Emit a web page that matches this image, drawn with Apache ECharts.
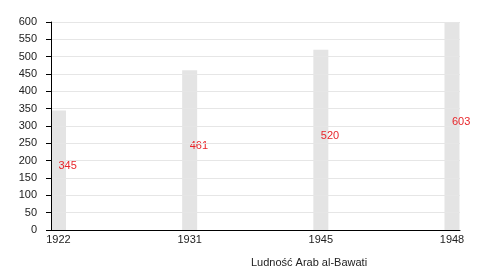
<!DOCTYPE html>
<html>
<head>
<meta charset="utf-8">
<script src="https://cdn.jsdelivr.net/npm/echarts@6/dist/echarts.min.js"></script>
<style>html,body{margin:0;padding:0;background:#fff}#c{width:500px;height:270px}</style>
</head>
<body>
<div id="c"></div>
<script>
const years = ['1922', '1931', '1945', '1948'];
const population = [345, 461, 520, 603];
const titleText = 'Ludność Arab al-Bawati';

const chart = echarts.init(document.getElementById('c'), null, {renderer: 'canvas'});
const font = 'Liberation Sans, Arial, sans-serif';
chart.setOption({
  animation: false,
  title: {
    text: titleText, left: 304, top: 252, textAlign: 'center',
    textStyle: {fontFamily: font, fontSize: 11, fontWeight: 'normal', color: '#222'}
  },
  grid: {left: 51, right: 40, top: 22, bottom: 40, containLabel: false},
  xAxis: [{
    type: 'value', min: -0.057, max: 3.061, z: 10,
    axisLine: {show: true, onZero: false, lineStyle: {color: '#000', width: 1}},
    axisTick: {show: false},
    splitLine: {show: false},
    axisLabel: {
      customValues: [0, 1, 2, 3],
      formatter: v => years[Math.round(v)],
      color: '#222', fontFamily: font, fontSize: 11, margin: 4
    }
  }, {
    type: 'value', min: 0, max: 1, show: false, position: 'bottom'
  }],
  yAxis: {
    type: 'value', min: 0, max: 600, interval: 50, z: 10,
    axisLine: {show: true, onZero: true, onZeroAxisIndex: 1, lineStyle: {color: '#000', width: 1}},
    axisTick: {show: true, length: 5, lineStyle: {color: '#000', width: 1}},
    splitLine: {show: true, lineStyle: {color: '#e6e6e6', width: 1}},
    axisLabel: {color: '#222', fontFamily: font, fontSize: 11, margin: 14}
  },
  series: [{
    type: 'bar',
    xAxisIndex: 0,
    z: 2,
    data: population.map((v, i) => [i, v]),
    barWidth: 15,
    itemStyle: {color: '#e4e4e4'},
    label: {
      show: true, position: 'inside', align: 'left', verticalAlign: 'middle',
      offset: [0, -4], color: '#e8262b', fontFamily: font, fontSize: 11
    }
  }]
});
</script>
</body>
</html>
